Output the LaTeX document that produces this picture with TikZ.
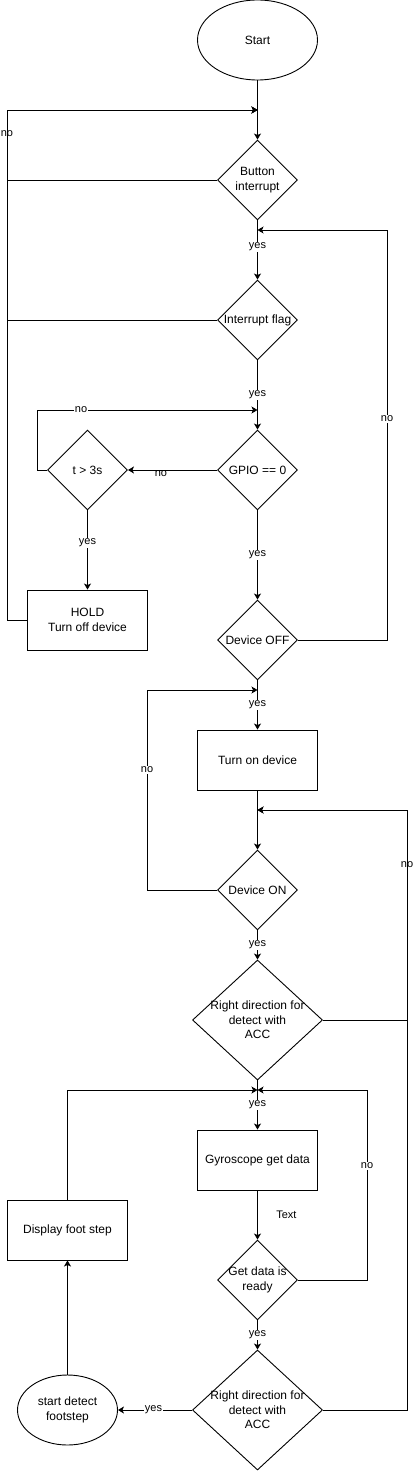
\documentclass[tikz,border=0pt]{standalone}
\usepackage{fontspec}
\setmainfont{Liberation Sans}
\usetikzlibrary{arrows.meta,shapes.geometric,positioning,calc}

\begin{document}
\begin{tikzpicture}[x=1pt,y=-1pt,line width=0.9pt,
			>={Stealth[length=6pt,width=7pt,inset=1.5pt]},
			term/.style={ellipse,draw=black,minimum width=120pt,minimum height=80pt,align=center,font=\fontsize{12}{14.5}\selectfont},
			proc/.style={rectangle,draw=black,minimum width=120pt,minimum height=60pt,align=center,font=\fontsize{12}{14.5}\selectfont},
			cond/.style={diamond,draw=black,aspect=1,inner sep=-3pt,minimum width=80pt,minimum height=80pt,align=center,font=\fontsize{12}{14.5}\selectfont},
			wide/.style={cond,minimum width=130pt,minimum height=120pt},
			lbl/.style={fill=white,inner sep=1pt,font=\fontsize{11}{13}\selectfont},
			flow/.style={draw=black,->}]
		\useasboundingbox (0,0) rectangle (416,1471);
		\path 	(257.5,40) 	node 	(start) [term] {Start}
		        (257.5,180) 	node 	(bi) [cond] {Button\\interrupt}
		        (257.5,320) 	node 	(iflag) [cond] {Interrupt flag}
		        (257.5,470) 	node 	(gpio) [cond] {GPIO == 0}
		        (87.5,470) 	node 	(tchk) [cond] {t > 3s}
		        (87.5,620) 	node 	(hold) [proc] {HOLD\\Turn off device}
		        (257.5,640) 	node 	(doff) [cond] {Device OFF}
		        (257.5,760) 	node 	(ton) [proc] {Turn on device}
		        (257.5,890) 	node 	(don) [cond] {Device ON}
		        (257.5,1020) 	node 	(rd1) [wide] {Right direction for\\detect with\\ACC}
		        (257.5,1160) 	node 	(gyro) [proc] {Gyroscope get data}
		        (257.5,1280) 	node 	(gdr) [cond] {Get data is\\ready}
		        (257.5,1410) 	node 	(rd2) [wide] {Right direction for\\detect with\\ACC}
		        (67.5,1410) 	node 	(sdf) [term,minimum width=100pt,minimum height=70pt] {start detect\\footstep}
		        (67.5,1230) 	node 	(disp) [proc] {Display foot step};
		% junctions on the main line
		\coordinate (j1) at (257.5,110);
		\coordinate (j2) at (257.5,230);
		\coordinate (j3) at (257.5,410);
		\coordinate (j4) at (257.5,690);
		\coordinate (j5) at (257.5,810);
		\coordinate (j6) at (257.5,1090);
		% main line
		\draw [flow] (start) -- (bi);
		\draw [flow] (bi) -- node[lbl,pos=0.45] {yes} (iflag);
		\draw [flow] (iflag) -- node[lbl,pos=0.5] {yes} (gpio);
		\draw [flow] (gpio) -- node[lbl,pos=0.5] {yes} (doff);
		\draw [flow] (doff) -- node[lbl,pos=0.5] {yes} (ton);
		\draw [flow] (ton) -- (don);
		\draw [flow] (don) -- node[lbl,pos=0.5] {yes} (rd1);
		\draw [flow] (rd1) -- node[lbl,pos=0.5] {yes} (gyro);
		\draw [flow] (gyro) -- node[anchor=west,xshift=15pt,font=\fontsize{11}{13}\selectfont] {Text} (gdr);
		\draw [flow] (gdr) -- node[lbl,pos=0.5] {yes} (rd2);
		% side loops
		\draw [flow] (bi.west) -- (7,180) |- node[lbl,pos=0.33] {no} (j1);
		\draw [flow] (iflag.west) -- (7,320) |- (j1);
		\draw [flow] (hold.west) -- (7,620) |- (j1);
		\draw [flow] (gpio) -- node[below,inner sep=0pt,pos=0.63,font=\fontsize{11}{13}\selectfont] {no} (tchk);
		\draw [flow] (tchk.west) -- (37,470) |- node[lbl,pos=0.6] {no} (j3);
		\draw [flow] (tchk) -- node[lbl,pos=0.41] {yes} (hold);
		\draw [flow] (doff.east) -- (387,640) |- node[lbl,pos=0.27] {no} (j2);
		\draw [flow] (don.west) -- (147,890) |- node[lbl,pos=0.3] {no} (j4);
		\draw [flow] (rd1.east) -- (407,1020) |- node[lbl,pos=0.37] {no} (j5);
		\draw [flow] (rd2.east) -- (407,1410) |- (j5);
		\draw [flow] (gdr.east) -- (367,1280) |- node[lbl,pos=0.3] {no} (j6);
		\draw [flow] (rd2) -- node[lbl,pos=0.52] {yes} (sdf);
		\draw [flow] (sdf) -- (disp);
		\draw [flow] (disp) |- (j6);
	\end{tikzpicture}
\end{document}
